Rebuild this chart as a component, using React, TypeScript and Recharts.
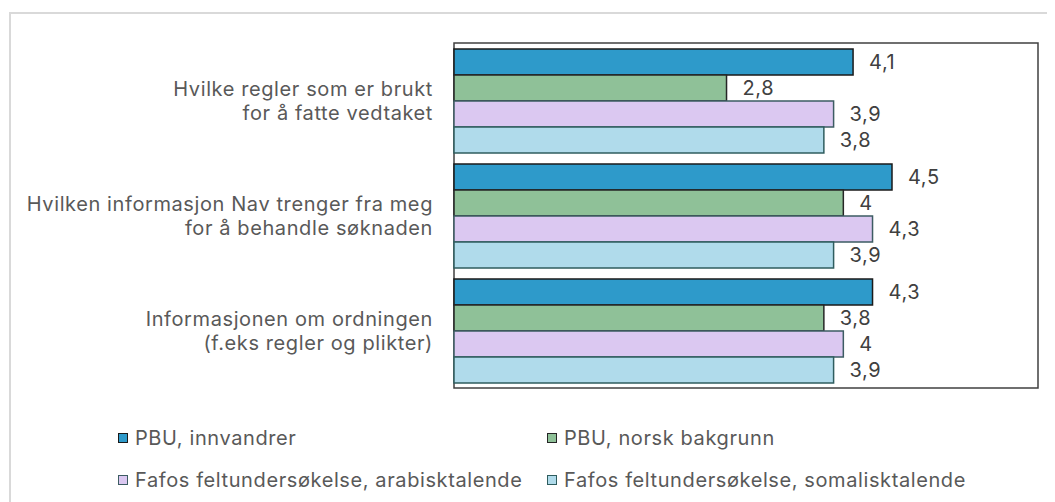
import React from "react";
import { BarChart, Bar, XAxis, YAxis, LabelList, Legend, ReferenceArea } from "recharts";

const categories = [
  "Hvilke regler som er brukt\nfor å fatte vedtaket",
  "Hvilken informasjon Nav trenger fra meg\nfor å behandle søknaden",
  "Informasjonen om ordningen\n(f.eks regler og plikter)",
];
const seriesNames = [
  "PBU, innvandrer",
  "PBU, norsk bakgrunn",
  "Fafos feltundersøkelse, arabisktalende",
  "Fafos feltundersøkelse, somalisktalende",
];
const pbuInnvandrer = [4.1, 4.5, 4.3];
const pbuNorsk = [2.8, 4, 3.8];
const fafosArabisk = [3.9, 4.3, 4];
const fafosSomalisk = [3.8, 3.9, 3.9];
const seriesValues = [pbuInnvandrer, pbuNorsk, fafosArabisk, fafosSomalisk];
const fills = ["#2E9ACA", "#8FC198", "#DBC8F1", "#B0DBEB"];
const strokes = ["#1a1a1a", "#262626", "#3d5c63", "#2f5d5f"];
const keys = ["s0", "s1", "s2", "s3"];

const data = categories.map((c, i) => {
  const row: any = { name: c };
  keys.forEach((k, j) => (row[k] = seriesValues[j][i]));
  return row;
});

const FONT = "Inter, 'Noto Sans', sans-serif";
const FS = 20;
const LS = 0.6;

const fmt = (v: any) => String(v).replace(".", ",");

const CatTick = (props: any) => {
  const { x, y, payload } = props;
  const lines = String(payload.value).split("\n");
  const lh = 24;
  const start = -((lines.length - 1) * lh) / 2;
  return (
    <text x={x} y={y} textAnchor="end" fill="#595959" fontSize={FS} fontFamily={FONT} letterSpacing={LS}>
      {lines.map((l, i) => (
        <tspan key={i} x={x} y={y + start + i * lh} dy="0.36em">
          {l}
        </tspan>
      ))}
    </text>
  );
};

const LegendContent = () => {
  return (
    <div
      style={{
        display: "grid",
        gridTemplateColumns: "429px 429px",
        fontFamily: FONT,
        fontSize: FS,
        letterSpacing: LS,
        color: "#595959",
      }}
    >
      {seriesNames.map((n, i) => (
        <div key={i} style={{ display: "flex", alignItems: "center", height: 42, whiteSpace: "nowrap" }}>
          <span
            style={{
              display: "inline-block",
              width: 10,
              height: 10,
              boxSizing: "border-box",
              background: fills[i],
              border: `1.5px solid ${strokes[i]}`,
              marginRight: 7,
            }}
          />
          <span>{n}</span>
        </div>
      ))}
    </div>
  );
};

export default function App() {
  return (
    <div style={{ position: "relative", width: 1047, height: 494 }}>
      <div
        style={{
          position: "absolute",
          left: 1,
          top: 4,
          width: 1046,
          height: 490,
          boxSizing: "border-box",
          borderLeft: "2px solid #d9d9d9",
          borderTop: "2px solid #d9d9d9",
        }}
      />
      <BarChart
        width={1047}
        height={494}
        data={data}
        layout="vertical"
        margin={{ top: 35, right: 17, bottom: 114, left: 0 }}
        barCategoryGap={6}
        barGap={0}
        style={{ position: "absolute", left: 0, top: 0 }}
      >
        <XAxis type="number" domain={[0, 6]} hide />
        <YAxis
          type="category"
          dataKey="name"
          width={446}
          axisLine={false}
          tickLine={false}
          tickSize={0}
          tickMargin={21}
          tick={<CatTick />}
        />
        <ReferenceArea x1={0} x2={6} fill="none" stroke="#404040" strokeWidth={1.5} ifOverflow="visible" />
        {keys.map((k, j) => (
          <Bar
            key={k}
            dataKey={k}
            name={seriesNames[j]}
            fill={fills[j]}
            stroke={strokes[j]}
            strokeWidth={1.5}
            isAnimationActive={false}
          >
            <LabelList
              dataKey={k}
              position="right"
              offset={16}
              formatter={fmt}
              fill="#404040"
              fontSize={FS}
              fontFamily={FONT}
              letterSpacing={LS}
            />
          </Bar>
        ))}
        <Legend
          layout="horizontal"
          verticalAlign="middle"
          align="center"
          content={<LegendContent />}
          wrapperStyle={{ left: 110, top: 409, width: 900 }}
        />
      </BarChart>
    </div>
  );
}
